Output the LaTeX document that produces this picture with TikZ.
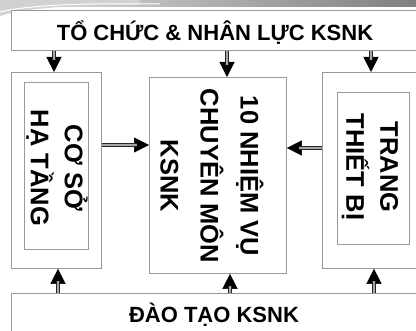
\documentclass[tikz,border=0pt]{standalone}
\usepackage{fontspec}
\setmainfont{Liberation Sans}
\usetikzlibrary{arrows.meta}
\tikzset{
  box/.style={draw=black!40, line width=0.8pt, fill=white, inner sep=0pt},
  tipline/.style={draw=black, line width=0.5pt,
    -{Triangle[length=15pt,width=15pt]}},
  conn/.style={tipline,
    postaction={draw=black!85, line width=0.9pt, double=black!35, double distance=1.3pt,
      shorten >=12pt, arrows=-}},
  htxt/.style={font=\fontsize{22}{26}\selectfont\bfseries, inner sep=0pt},
  vtxt/.style={font=\fontsize{25.5}{34}\selectfont\bfseries, rotate=-90, align=center, inner sep=0pt},
}
\begin{document}
\begin{tikzpicture}[x=1pt,y=-1pt]
\useasboundingbox (0,0) rectangle (416,331);
\clip (0,0) rectangle (416,331);
% header swoosh
\shade[left color=black!12, right color=black!50] (0,0) rectangle (416,7);
\fill[black!18] (0,0) -- (0,16) .. controls (25,8) and (70,5) .. (140,5) -- (140,0) -- cycle;
\draw[white, line width=1pt] (0,12) .. controls (30,5) and (80,3) .. (160,4);
% boxes
\node[box, anchor=north west, minimum width=430pt, minimum height=40pt] (top) at (11,10) {};
\node[box, anchor=north west, minimum width=90pt, minimum height=196pt] (left) at (11,72) {};
\node[box, anchor=north west, minimum width=64pt, minimum height=167pt] (leftin) at (24,82) {};
\node[box, anchor=north west, minimum width=137pt, minimum height=196pt] (mid) at (149,77) {};
\node[box, anchor=north west, minimum width=110pt, minimum height=196pt] (right) at (322,72) {};
\node[box, anchor=north west, minimum width=72pt, minimum height=152pt] (rightin) at (337,92) {};
\node[box, anchor=north west, minimum width=430pt, minimum height=60pt] (bot) at (11,293) {};
% texts
\node[htxt] (ttop) at (215,33) {TỔ CHỨC \& NHÂN LỰC KSNK};
\node[htxt] (tbot) at (214,315) {ĐÀO TẠO KSNK};
\node[vtxt] (tleft) at (57,168) {CƠ SỞ\\HẠ TẦNG};
\node[vtxt, font=\fontsize{25.5}{40}\selectfont\bfseries] (tmid) at (212,176) {10 NHIỆM VỤ\\CHUYÊN MÔN\\KSNK};
\node[vtxt] (tright) at (370,167) {TRANG\\THIẾT BỊ};
% arrow x positions
\coordinate (a1) at (54,0);
\coordinate (a2) at (227,0);
\coordinate (a3) at (371,0);
\coordinate (b1) at (58,0);
\coordinate (b2) at (230,0);
\coordinate (b3) at (374,0);
\coordinate (h1) at (0,145);
\coordinate (h2) at (0,148);
% connectors
\draw[conn] (top.south -| a1) -- (left.north -| a1);
\draw[conn] (top.south -| a2) -- (mid.north -| a2);
\draw[conn] (top.south -| a3) -- (right.north -| a3);
\draw[conn] (bot.north -| b1) -- (left.south -| b1);
\draw[conn] (bot.north -| b2) -- (mid.south -| b2);
\draw[conn] (bot.north -| b3) -- (right.south -| b3);
\draw[conn] (left.east |- h1) -- (mid.west |- h1);
\draw[conn] (right.west |- h2) -- (mid.east |- h2);
\end{tikzpicture}
\end{document}
